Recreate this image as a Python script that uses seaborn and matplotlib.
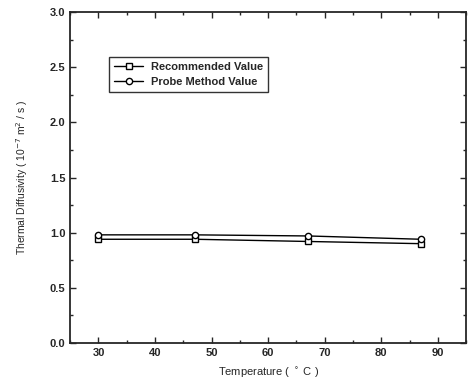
import pandas as pd
import seaborn as sns
from matplotlib import pyplot as plt
from matplotlib.ticker import MultipleLocator

temperature = [30, 47, 67, 87]
recommended = [0.94, 0.94, 0.92, 0.90]
probe = [0.98, 0.98, 0.97, 0.94]
series_names = ['Recommended Value', 'Probe Method Value']

df = pd.DataFrame({
    'T': temperature * 2,
    'alpha': recommended + probe,
    'series': [series_names[0]] * len(temperature) + [series_names[1]] * len(temperature),
})

sns.set_style('ticks')
plt.rcParams['font.family'] = ['Liberation Sans', 'DejaVu Sans']

fig = plt.figure(figsize=(4.68, 3.91), dpi=100)
ax = fig.add_axes([0.150, 0.123, 0.846, 0.846])

sns.lineplot(data=df, x='T', y='alpha', hue='series', style='series',
             palette=['black', 'black'], markers=['s', 'o'], dashes=False,
             markersize=4.5, markerfacecolor='white', markeredgecolor='black',
             markeredgewidth=1.0, linewidth=1.0, ax=ax)

ax.set_xlim(25, 95)
ax.set_ylim(0, 3.0)
ax.xaxis.set_major_locator(MultipleLocator(10))
ax.xaxis.set_minor_locator(MultipleLocator(5))
ax.yaxis.set_major_locator(MultipleLocator(0.5))
ax.yaxis.set_minor_locator(MultipleLocator(0.25))
ax.tick_params(which='both', direction='in', top=True, right=True, labelsize=8, width=1)
ax.tick_params(which='major', length=4)
ax.tick_params(which='minor', length=2)
for lbl in ax.get_xticklabels() + ax.get_yticklabels():
    lbl.set_fontweight('bold')
for s in ax.spines.values():
    s.set_linewidth(1.3)

ax.set_xlabel('Temperature ( $^\\circ$ C )', fontsize=8, labelpad=6)
ax.set_ylabel('Thermal Diffusivity ( 10$^{-7}$ m$^{2}$ / s )', fontsize=7.5, labelpad=14)

leg = ax.legend(loc='upper left', bbox_to_anchor=(0.085, 0.88), fontsize=8,
                frameon=True, fancybox=False, edgecolor='black', handlelength=2.6,
                borderpad=0.45, labelspacing=0.4, handletextpad=0.7)
leg.get_frame().set_linewidth(1.0)
for t in leg.get_texts():
    t.set_fontweight('bold')

plt.savefig('out.png', dpi=100)
